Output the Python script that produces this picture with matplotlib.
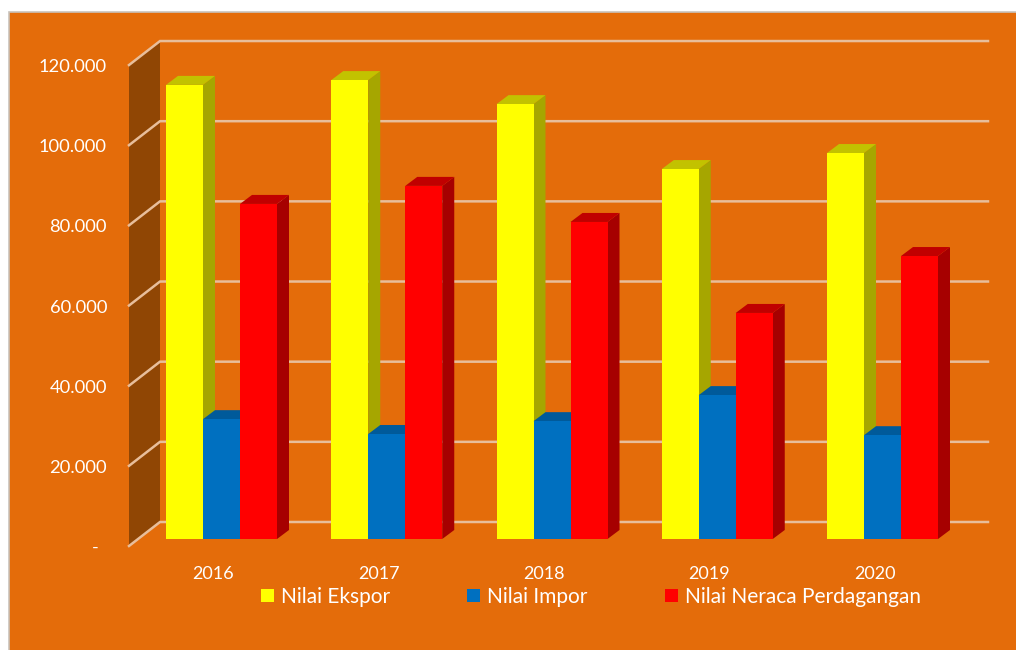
import matplotlib
matplotlib.use("Agg")
import matplotlib.pyplot as plt
from matplotlib.patches import Polygon, Rectangle

# -------- Data (nilai dalam ribuan) --------
years = ["2016", "2017", "2018", "2019", "2020"]
ekspor = [113.3, 114.5, 108.5, 92.3, 96.3]
impor = [29.9, 26.2, 29.4, 35.9, 25.9]
neraca = [83.6, 88.1, 79.1, 56.4, 70.6]
tick_values = [0, 20, 40, 60, 80, 100, 120]
tick_labels = ["-", "20.000", "40.000", "60.000", "80.000", "100.000", "120.000"]
series_names = ["Nilai Ekspor", "Nilai Impor", "Nilai Neraca Perdagangan"]

# -------- Style --------
W, H = 1016, 650
ORANGE = "#E46C0A"
WALL = "#904604"
GRID = "#E8BE9B"
TXT = "#FFFFFF"
front = ["#FFFF00", "#0070C0", "#FF0000"]
side = ["#A6A600", "#004A80", "#A60000"]
top = ["#C2C200", "#005A9A", "#C00000"]

plt.rcParams["font.family"] = ["Lato", "DejaVu Sans"]

fig = plt.figure(figsize=(W / 100, H / 100), dpi=100, facecolor="white")
ax = fig.add_axes([0, 0, 1, 1])

# scales: one category = 165.25 px, 1 unit of value = 4.008 px
px_x = 165.25
px_y = 4.008
x0 = 221.5  # pixel centre of the first group
y0 = 539.0  # pixel row of value 0
ax.set_xlim((0 - x0) / px_x, (W - x0) / px_x)
ax.set_ylim((y0 - H) / px_y, y0 / px_y)
ax.axis("off")

def dx(p):
    return p / px_x

def dy(p):
    return p / px_y

# panel
xmin, xmax = ax.get_xlim()
ymin, ymax = ax.get_ylim()
ax.add_patch(Rectangle((xmin + dx(8.5), ymin - 1), xmax - xmin, ymax - ymin - dy(12) + 1,
                       facecolor=ORANGE, edgecolor="#C9C3BC", linewidth=1.2, zorder=0))

# side wall + gridlines
wall_front = (129 - x0) / px_x
wall_back = (160 - x0) / px_x
grid_end = (988 - x0) / px_x
wall_low, wall_high = dy(-7), dy(17)
ax.add_patch(Polygon([(wall_front, wall_low), (wall_back, wall_high),
                      (wall_back, 120 + wall_high), (wall_front, 120 + wall_low)],
                     facecolor=WALL, edgecolor="none", zorder=1))
for v, lab in zip(tick_values, tick_labels):
    ax.plot([wall_front, wall_back, grid_end], [v + wall_low, v + wall_high, v + wall_high],
            color=GRID, linewidth=1.8, solid_joinstyle="miter", zorder=2)
    pad = 30 if lab == "-" else 22
    ax.text(wall_front - dx(pad), v + wall_low - dy(2), lab,
            color=TXT, fontsize=13.2, ha="right", va="center", zorder=6)

# bars
bar_w = 37 / px_x
depth_x, depth_y = dx(12), dy(9)
for s, vals in enumerate([ekspor, impor, neraca]):
    for i, v in enumerate(vals):
        left = i + (s - 1.5) * bar_w
        right = left + bar_w
        z = 3 + s * 0.1
        ax.add_patch(Polygon([(right, 0), (right + depth_x, depth_y),
                              (right + depth_x, v + depth_y), (right, v)],
                             facecolor=side[s], edgecolor="none", zorder=z))
        ax.add_patch(Polygon([(left, v), (right, v), (right + depth_x, v + depth_y),
                              (left + depth_x, v + depth_y)],
                             facecolor=top[s], edgecolor="none", zorder=z))
    ax.bar([i + (s - 1) * bar_w for i in range(len(vals))], vals, width=bar_w,
           color=front[s], linewidth=0, zorder=3.05 + s * 0.1, label=series_names[s])

# year labels
for i, y in enumerate(years):
    ax.text(i - dx(8), dy(-35), y, color=TXT, fontsize=13, ha="center", va="center", zorder=6)

# legend
leg = ax.legend(loc="center left", bbox_to_anchor=(261 / W, 1 - 597 / H), ncol=3,
                frameon=False, fontsize=15, handlelength=0.62, handleheight=0.62,
                handletextpad=0.34, columnspacing=3.7, labelcolor=TXT, borderpad=0,
                borderaxespad=0)

fig.savefig("out.png", dpi=100, facecolor=fig.get_facecolor())
